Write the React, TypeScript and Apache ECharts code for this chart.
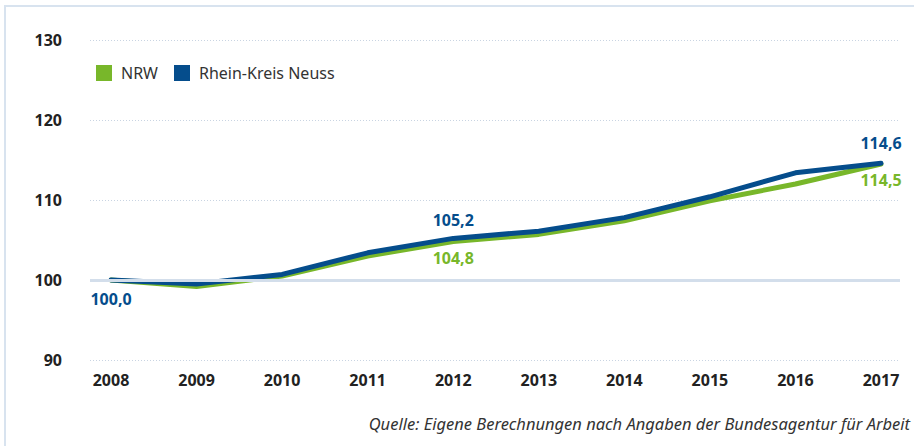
import React, { useEffect, useRef } from "react";
import * as echarts from "echarts";

const years = ["2008", "2009", "2010", "2011", "2012", "2013", "2014", "2015", "2016", "2017"];
const nrw = [100.0, 99.2, 100.5, 103.0, 104.8, 105.7, 107.4, 109.9, 112.0, 114.5];
const rkn = [100.0, 99.5, 100.7, 103.4, 105.2, 106.1, 107.8, 110.4, 113.4, 114.6];
const nrwLabelIdx = [4, 9];
const rknLabelIdx = [0, 4, 9];
const yTicks = [90, 100, 110, 120, 130];
const seriesNames = ["NRW", "Rhein-Kreis Neuss"];
const sourceText = "Quelle: Eigene Berechnungen nach Angaben der Bundesagentur für Arbeit";

const BLUE = "#054d8c";
const GREEN = "#78b72a";
const FONT = "'Noto Sans', sans-serif";

const fmt = (v: number) => v.toFixed(1).replace(".", ",");

export default function App() {
  const ref = useRef<HTMLDivElement>(null);
  useEffect(() => {
    if (!ref.current) return;
    const chart = echarts.init(ref.current, null, { renderer: "svg" });
    const mk = (
      vals: number[],
      idx: number[],
      posFn: (i: number) => "top" | "bottom",
      color: string,
      offFn: (i: number) => number
    ) =>
      vals.map((v, i) =>
        idx.includes(i)
          ? {
              value: v,
              label: {
                show: true,
                position: posFn(i),
                color,
                offset: [0, offFn(i)],
                formatter: () => fmt(v),
              },
            }
          : { value: v }
      );
    chart.setOption({
      animation: false,
      backgroundColor: "#fff",
      textStyle: { fontFamily: FONT },
      grid: [
        { left: 90, right: 14, top: 40, height: 320 },
        { left: 111, right: 33, top: 40, height: 320 },
      ],
      xAxis: [
        { type: "value", gridIndex: 0, min: 0, max: 1, show: false },
        {
          type: "category",
          gridIndex: 1,
          data: years,
          boundaryGap: false,
          axisLine: { show: false },
          axisTick: { show: false },
          axisLabel: { color: "#222", fontWeight: "bold", fontSize: 16, margin: 12, fontFamily: FONT },
        },
      ],
      yAxis: [
        {
          type: "value",
          gridIndex: 0,
          min: yTicks[0],
          max: yTicks[yTicks.length - 1],
          interval: 10,
          axisLine: { show: false },
          axisTick: { show: false },
          axisLabel: { color: "#222", fontWeight: "bold", fontSize: 16, margin: 28, fontFamily: FONT },
          splitLine: { lineStyle: { color: "#c9d4e2", type: [1, 2], width: 1 } },
        },
        {
          type: "value",
          gridIndex: 1,
          min: yTicks[0],
          max: yTicks[yTicks.length - 1],
          show: false,
          splitLine: { show: false },
        },
      ],
      series: [
        {
          type: "line",
          xAxisIndex: 0,
          yAxisIndex: 0,
          data: [[0, 100]],
          symbol: "none",
          lineStyle: { opacity: 0 },
          silent: true,
          markLine: {
            silent: true,
            symbol: "none",
            label: { show: false },
            lineStyle: { color: "#d3deeb", width: 3, type: "solid" },
            data: [{ yAxis: 100 }],
          },
          z: 1,
        },
        {
          name: seriesNames[0],
          type: "line",
          xAxisIndex: 1,
          yAxisIndex: 1,
          data: mk(nrw, nrwLabelIdx, () => "bottom", GREEN, () => 0),
          symbol: "circle",
          symbolSize: 0,
          showSymbol: true,
          lineStyle: { color: GREEN, width: 5, cap: "round", join: "round" },
          itemStyle: { color: GREEN },
          label: { fontSize: 16, fontWeight: "bold", distance: 8, fontFamily: FONT },
          z: 3,
        },
        {
          name: seriesNames[1],
          type: "line",
          xAxisIndex: 1,
          yAxisIndex: 1,
          data: mk(
            rkn,
            rknLabelIdx,
            (i) => (i === 0 ? "bottom" : "top"),
            BLUE,
            (i) => (i === 0 ? 3 : i === 9 ? -4 : -2)
          ),
          symbol: "circle",
          symbolSize: 0,
          showSymbol: true,
          lineStyle: { color: BLUE, width: 5, cap: "round", join: "round" },
          itemStyle: { color: BLUE },
          label: { fontSize: 16, fontWeight: "bold", distance: 8, fontFamily: FONT },
          z: 4,
        },
      ],
      legend: {
        data: seriesNames,
        left: 91,
        top: 60,
        icon: "rect",
        itemWidth: 16,
        itemHeight: 16,
        itemGap: 16,
        textStyle: { color: "#333", fontSize: 16, fontFamily: FONT, padding: [0, 0, 0, 4] },
      },
      graphic: [
        {
          type: "rect",
          shape: { x: 5, y: 6, width: 960, height: 500 },
          style: { fill: "none", stroke: "#d8e3ef", lineWidth: 2 },
          silent: true,
          z: 0,
        },
        {
          type: "text",
          right: 4,
          top: 415,
          style: {
            text: sourceText,
            fill: "#333",
            font: "italic 16.5px 'Noto Sans', sans-serif",
          },
        },
      ],
    });
    return () => chart.dispose();
  }, []);
  return (
    <div
      ref={ref}
      style={{ position: "fixed", left: 0, top: 0, width: 914, height: 446 }}
    />
  );
}
